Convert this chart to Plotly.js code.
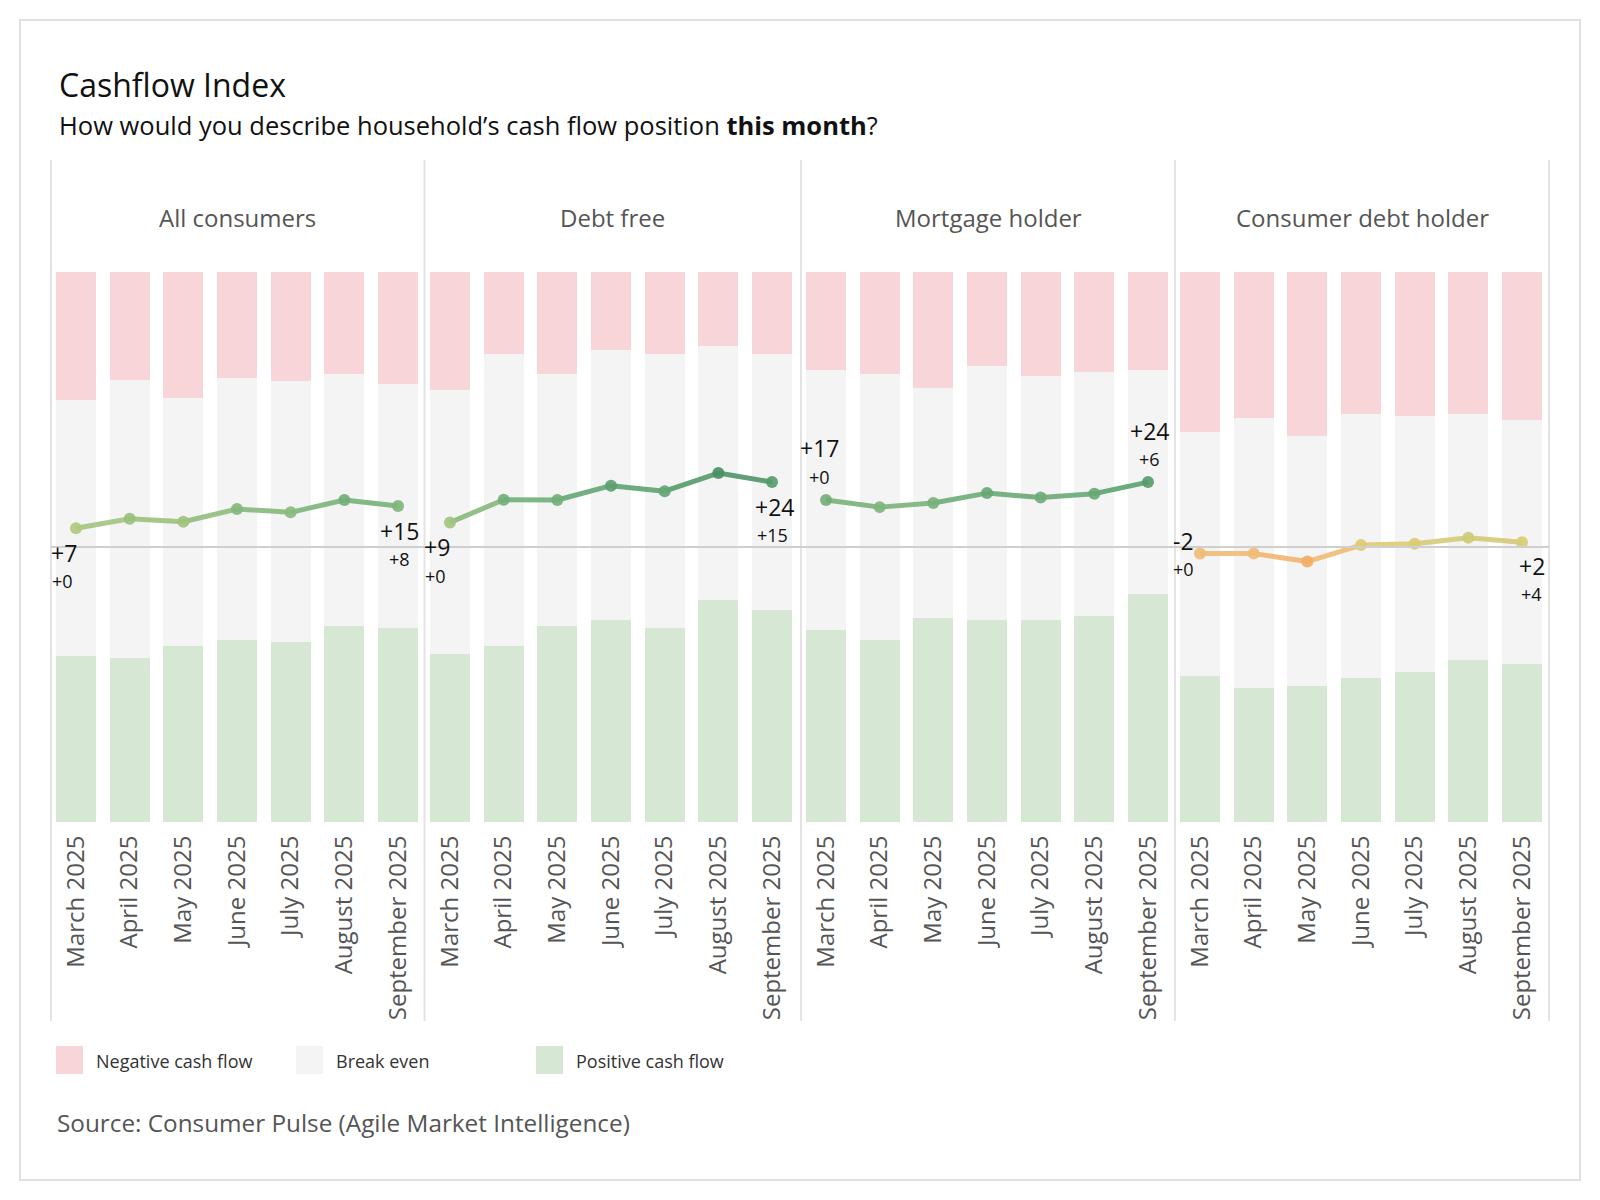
<!DOCTYPE html>
<html><head><meta charset="utf-8">
<script src="https://cdn.plot.ly/plotly-3.0.1.min.js"></script>
<style>html,body{margin:0;padding:0;background:#fff}#chart{width:1600px;height:1200px}</style>
</head><body><div id="chart"></div>
<script>
// ---------- DATA ----------
const months = ["March 2025","April 2025","May 2025","June 2025","July 2025","August 2025","September 2025"];
const segments = ["All consumers","Debt free","Mortgage holder","Consumer debt holder"];

// shares of households, % (negative / break even / positive)
const negAll  = [23.2,19.6,22.9,19.3,19.9,18.5,20.3];
const evenAll = [46.6,50.6,45.1,47.6,47.4,45.9,44.4];
const posAll  = [30.2,29.8,32.0,33.1,32.7,35.6,35.3];

const negFree  = [21.4,14.9,18.5,14.1,14.9,13.5,14.9];
const evenFree = [48.1,53.1,45.9,49.2,49.8,46.1,46.6];
const posFree  = [30.5,32.0,35.6,36.7,35.3,40.4,38.5];

const negMort  = [17.8,18.5,21.0,17.0,18.9,18.1,17.8];
const evenMort = [47.3,48.4,41.9,46.3,44.4,44.4,40.7];
const posMort  = [34.9,33.1,37.1,36.7,36.7,37.5,41.5];

const negDebt  = [29.0,26.5,29.8,25.8,26.1,25.8,26.9];
const evenDebt = [44.5,49.1,45.5,48.0,46.6,44.7,44.4];
const posDebt  = [26.5,24.4,24.7,26.2,27.3,29.5,28.7];

// cashflow index (net balance)
const idxAll  = [6.8,10.3,9.2,13.8,12.6,17.1,14.9];
const idxFree = [8.9,17.2,17.1,22.3,20.3,26.9,23.6];
const idxMort = [17.1,14.5,16.0,19.6,18.0,19.4,23.6];
const idxDebt = [-2.4,-2.4,-5.3,0.7,1.2,3.4,1.7];

// end-point labels
const firstLabels = ["+7","+9","+17","-2"];
const firstDeltas = ["+0","+0","+0","+0"];
const lastLabels  = ["+15","+24","+24","+2"];
const lastDeltas  = ["+8","+15","+6","+4"];

const legendNames = ["Negative cash flow","Break even","Positive cash flow"];
const titleText = "Cashflow Index";
const subtitleText = "How would you describe household\u2019s cash flow position <b>this month</b>?";
const sourceText = "Source: Consumer Pulse (Agile Market Intelligence)";

// ---------- STYLE ----------
const W = 1600, H = 1200;
const px = v => v / W;
const py = v => 1 - v / H;
const FONT = "Open Sans, Noto Sans, sans-serif";
const cNeg = "#f8d5d8", cEven = "#f4f4f4", cPos = "#d6e7d4";
const colorStops = [[-8,"#ef9f4c"],[-3,"#f3b877"],[0,"#e4cb72"],[4,"#c9cd7a"],[8,"#a7c67f"],[14,"#82b77d"],[20,"#64a775"],[27,"#4a9062"]];
const cmin = colorStops[0][0], cmax = colorStops[colorStops.length-1][0];

function hex2rgb(h){return [parseInt(h.substr(1,2),16),parseInt(h.substr(3,2),16),parseInt(h.substr(5,2),16)];}
function colorAt(v){
  if (v <= cmin) return colorStops[0][1];
  if (v >= cmax) return colorStops[colorStops.length-1][1];
  for (let i=0;i<colorStops.length-1;i++){
    const [a,ca]=colorStops[i],[b,cb]=colorStops[i+1];
    if (v>=a && v<=b){
      const t=(v-a)/(b-a), A=hex2rgb(ca), B=hex2rgb(cb);
      const c=A.map((x,k)=>Math.round(x+(B[k]-x)*t));
      return `rgb(${c[0]},${c[1]},${c[2]})`;
    }
  }
}
const colorscale = colorStops.map(s => [(s[0]-cmin)/(cmax-cmin), s[1]]);

const panels = [
  {name:segments[0], neg:negAll,  even:evenAll,  pos:posAll,  idx:idxAll},
  {name:segments[1], neg:negFree, even:evenFree, pos:posFree, idx:idxFree},
  {name:segments[2], neg:negMort, even:evenMort, pos:posMort, idx:idxMort},
  {name:segments[3], neg:negDebt, even:evenDebt, pos:posDebt, idx:idxDebt}
];

// layout geometry (pixels)
const firstBarCenter = [76, 450, 826, 1200];
const step = 53.67;
const separators = [51, 424.5, 801, 1175, 1549];
const plotTop = 272, plotBottom = 822;
// label offsets [xshift, yshift] for big / small labels
const firstOff = [[[-12,-25],[-14,-53]],[[-13,-24],[-15,-53]],[[-7,52],[-7,23]],[[-17,13],[-17,-15]]];
const lastOff  = [[[1,-25],[1,-53]],[[2,-25],[0,-53]],[[1,51],[1,23]],[[10,-24],[9,-52]]];

const traces = [];
const layout = {
  width: W, height: H,
  margin: {l:0,r:0,t:0,b:0},
  paper_bgcolor: "#ffffff",
  plot_bgcolor: "rgba(0,0,0,0)",
  barmode: "stack",
  bargap: 0.255,
  showlegend: false,
  font: {family: FONT, color: "#555"},
  yaxis: {domain:[py(plotBottom), py(plotTop)], range:[0,100], visible:false, fixedrange:true, anchor:"x"},
  yaxis2: {domain:[py(plotBottom), py(plotTop)], range:[-100,100], visible:false, overlaying:"y", anchor:"x", fixedrange:true},
  shapes: [],
  annotations: []
};

panels.forEach((p, i) => {
  const n = i + 1;
  const xid = n === 1 ? "x" : "x" + n;
  const start = firstBarCenter[i] - step/2;
  layout["xaxis" + (n === 1 ? "" : n)] = {
    domain: [px(start), px(start + 7*step)],
    type: "category", range: [-0.5, 6.5],
    tickangle: -90,
    tickfont: {family: FONT, size: 24, color: "#555"},
    showgrid: false, zeroline: false, showline: false,
    ticks: "outside", ticklen: 3, tickcolor: "rgba(0,0,0,0)",
    anchor: "y", fixedrange: true
  };
  traces.push({type:"bar", x:months, y:p.pos,  xaxis:xid, yaxis:"y", name:legendNames[2], marker:{color:cPos, line:{width:0}}, hovertemplate:"%{x}: %{y:.1f}%<extra>"+legendNames[2]+"</extra>"});
  traces.push({type:"bar", x:months, y:p.even, xaxis:xid, yaxis:"y", name:legendNames[1], marker:{color:cEven, line:{width:0}}, hovertemplate:"%{x}: %{y:.1f}%<extra>"+legendNames[1]+"</extra>"});
  traces.push({type:"bar", x:months, y:p.neg,  xaxis:xid, yaxis:"y", name:legendNames[0], marker:{color:cNeg, line:{width:0}}, hovertemplate:"%{x}: %{y:.1f}%<extra>"+legendNames[0]+"</extra>"});
});

// index lines on top
panels.forEach((p, i) => {
  const n = i + 1;
  const xid = n === 1 ? "x" : "x" + n;
  const yid = "y2";
  for (let j = 0; j < months.length - 1; j++) {
    traces.push({type:"scatter", mode:"lines", x:[months[j], months[j+1]], y:[p.idx[j], p.idx[j+1]],
      xaxis:xid, yaxis:yid, line:{color:colorAt((p.idx[j]+p.idx[j+1])/2), width:5}, opacity:0.9, hoverinfo:"skip"});
  }
  traces.push({type:"scatter", mode:"markers", x:months, y:p.idx, xaxis:xid, yaxis:yid,
    marker:{size:12, color:p.idx, colorscale:colorscale, cmin:cmin, cmax:cmax, line:{width:0}}, opacity:0.9,
    hovertemplate:"%{x}: %{y:.0f}<extra>"+p.name+"</extra>"});

  const fi = 0, li = months.length - 1;
  const mk = (xv, yv, txt, size, off) => ({xref:xid, yref:yid, x:xv, y:yv, text:txt, showarrow:false,
    xanchor:"center", yanchor:"middle", xshift:off[0], yshift:off[1], font:{family:FONT, size:size, color:"#111"}});
  layout.annotations.push(mk(months[fi], p.idx[fi], firstLabels[i], 23, firstOff[i][0]));
  layout.annotations.push(mk(months[fi], p.idx[fi], firstDeltas[i], 18, firstOff[i][1]));
  layout.annotations.push(mk(months[li], p.idx[li], lastLabels[i], 23, lastOff[i][0]));
  layout.annotations.push(mk(months[li], p.idx[li], lastDeltas[i], 18, lastOff[i][1]));

  // panel header
  layout.annotations.push({xref:"paper", yref:"paper", x:px((separators[i]+separators[i+1])/2), y:py(217),
    text:p.name, showarrow:false, xanchor:"center", yanchor:"middle", font:{family:FONT, size:24, color:"#555"}});
});

// separators
separators.forEach(s => layout.shapes.push({type:"line", xref:"paper", yref:"paper", x0:px(s), x1:px(s), y0:py(160), y1:py(1021), line:{color:"#e3e3e3", width:2}, layer:"below"}));
// zero line
layout.shapes.push({type:"line", xref:"paper", yref:"y2", x0:px(51), x1:px(1549), y0:0, y1:0, line:{color:"#cfcfcf", width:2}, layer:"above"});
// outer border
layout.shapes.push({type:"rect", xref:"paper", yref:"paper", x0:px(20), x1:px(1580), y0:py(20), y1:py(1180), line:{color:"#e0e0e0", width:2}, fillcolor:"rgba(0,0,0,0)", layer:"below"});

// title, subtitle, source
layout.annotations.push({xref:"paper", yref:"paper", x:px(57), y:py(85), text:titleText, showarrow:false, xanchor:"left", yanchor:"middle", font:{family:FONT, size:32, color:"#111"}});
layout.annotations.push({xref:"paper", yref:"paper", x:px(57), y:py(125), text:subtitleText, showarrow:false, xanchor:"left", yanchor:"middle", font:{family:FONT, size:25.5, color:"#111"}});
layout.annotations.push({xref:"paper", yref:"paper", x:px(55), y:py(1122), text:sourceText, showarrow:false, xanchor:"left", yanchor:"middle", font:{family:FONT, size:24.3, color:"#555"}});

// legend (manual, large swatches)
const legendColors = [cNeg, cEven, cPos];
const legendSwatchX = [56, 296, 536];
legendNames.forEach((nm, k) => {
  layout.shapes.push({type:"rect", xref:"paper", yref:"paper", x0:px(legendSwatchX[k]), x1:px(legendSwatchX[k]+27), y0:py(1074), y1:py(1046), fillcolor:legendColors[k], line:{width:0}});
  layout.annotations.push({xref:"paper", yref:"paper", x:px(legendSwatchX[k]+38), y:py(1061), text:nm, showarrow:false, xanchor:"left", yanchor:"middle", font:{family:FONT, size:18, color:"#333"}});
});

Plotly.newPlot("chart", traces, layout, {displayModeBar:false, staticPlot:false});
</script></body></html>
